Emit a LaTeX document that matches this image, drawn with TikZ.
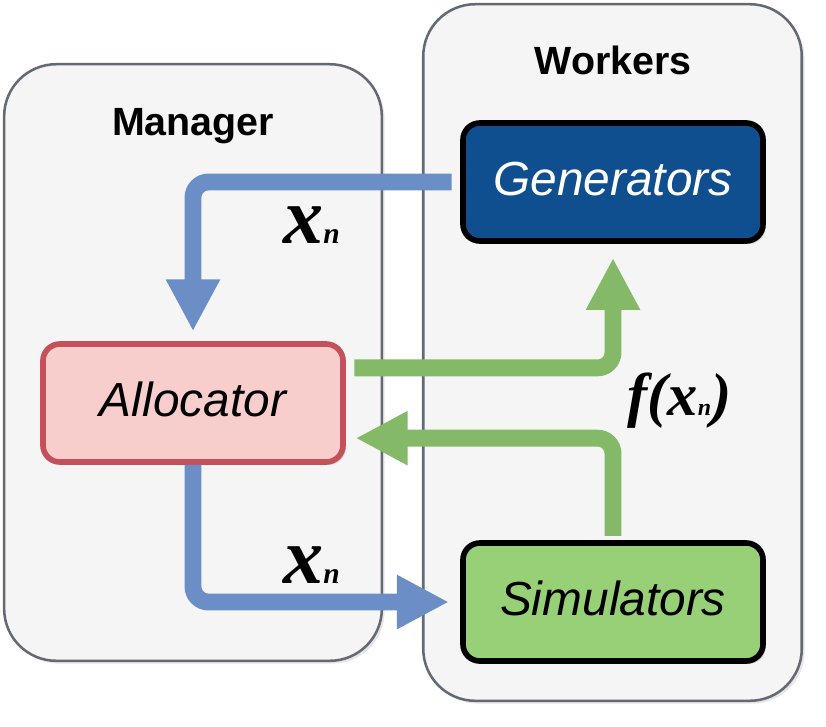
\documentclass[tikz,border=0pt]{standalone}
\usepackage{fontspec}
\setmainfont{Liberation Sans}
\newfontfamily\labelfont{Liberation Serif}
\usetikzlibrary{arrows.meta,shadows}

\definecolor{panelfill}{HTML}{F5F5F5}
\definecolor{panelline}{HTML}{646A73}
\definecolor{genfill}{HTML}{0F4E8F}
\definecolor{allocfill}{HTML}{F8CECC}
\definecolor{allocline}{HTML}{C4505A}
\definecolor{simfill}{HTML}{97D077}
\definecolor{flowblue}{HTML}{6C8EC6}
\definecolor{flowgreen}{HTML}{84B968}

\tikzset{
  panel/.style={draw=panelline, fill=panelfill, line width=1.8pt, rounded corners=37pt,
    drop shadow={shadow xshift=2pt, shadow yshift=-2pt, opacity=0.2}},
  title/.style={font=\fontsize{28}{30}\selectfont\bfseries, anchor=base, inner sep=0pt},
  task/.style={line width=4pt, rounded corners=12pt, minimum width=7.5cm, minimum height=2.95cm,
    text depth=5pt, font=\fontsize{34}{36}\selectfont\itshape,
    drop shadow={shadow xshift=2pt, shadow yshift=-2pt, opacity=0.25}},
  flow/.style={line width=12pt, rounded corners=11pt, -{Triangle[width=36pt,length=37pt]}},
  xlabel/.style={font=\labelfont\bfseries\itshape\fontsize{57}{60}\selectfont, inner sep=0pt, anchor=base west}
}

\begin{document}
\begin{tikzpicture}[x=0.025cm, y=-0.025cm]
  \useasboundingbox (0,0) rectangle (826,726);

  % Panels
  \node[panel, minimum width=9.44cm, minimum height=14.91cm] (manager) at (193,362.5) {};
  \node[panel, minimum width=9.46cm, minimum height=17.41cm] (workers) at (612.5,352.5) {};
  \node[title] (mtitle) at (193,135) {Manager};
  \node[title] (wtitle) at (613,74) {Workers};

  % Boxes
  \node[task, draw=black, fill=genfill, text=white] (gen) at (613,182) {Generators};
  \node[task, draw=allocline, fill=allocfill] (alloc) at (193,403) {Allocator};
  \node[task, draw=black, fill=simfill] (sim) at (613,602) {Simulators};

  % Points to the manager
  \draw[flow, flowblue] ([xshift=-6pt]gen.west) -| ([yshift=7pt]alloc.north);
  \draw[flow, flowgreen] ([yshift=3pt]sim.north) |- ([xshift=7pt, yshift=-25pt]alloc.east);

  % Points to the workers
  \draw[flow, flowgreen] ([xshift=6pt, yshift=25pt]alloc.east) -| ([yshift=-10pt]gen.south);
  \draw[flow, flowblue] (alloc.south) |- ([xshift=-8pt]sim.west);

  % Labels
  \node[xlabel] (xup) at (283,243) {x{\fontsize{21}{21}\selectfont n}};
  \node[xlabel] (xdown) at (283,583) {x{\fontsize{21}{21}\selectfont n}};
  \node[xlabel, font=\labelfont\bfseries\itshape\fontsize{43}{46}\selectfont] (fx) at (627,415)
    {f(x{\fontsize{17}{17}\selectfont n})};
\end{tikzpicture}
\end{document}
